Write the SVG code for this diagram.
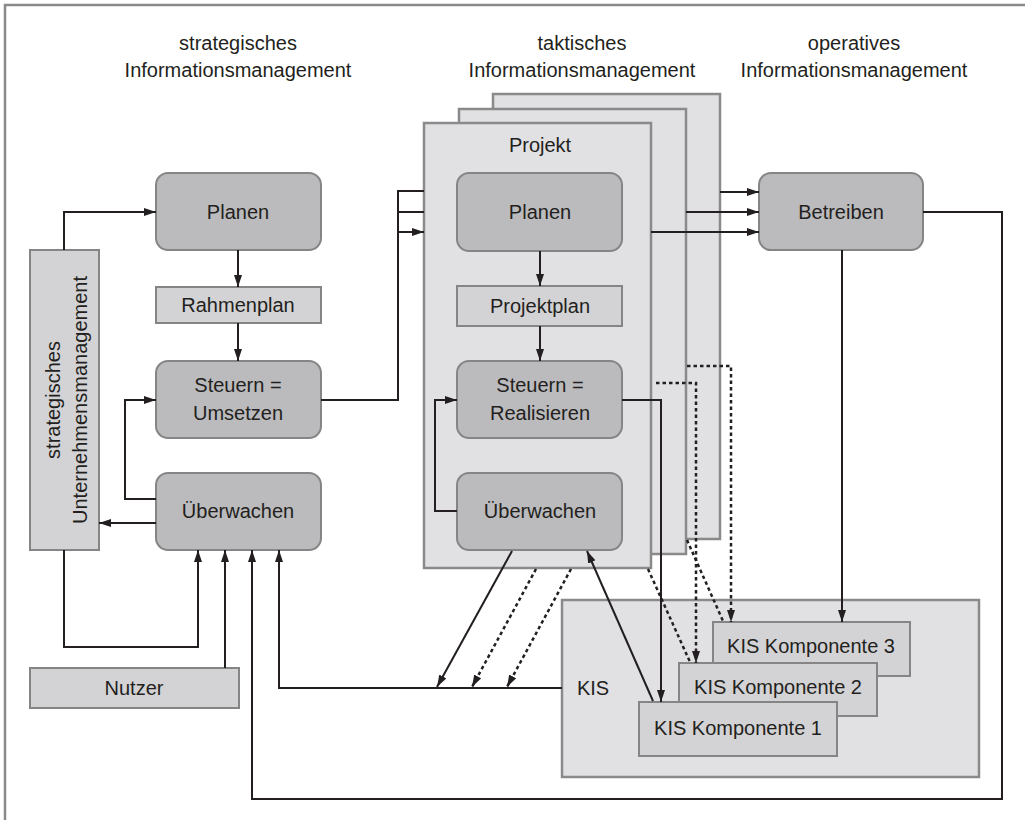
<svg xmlns="http://www.w3.org/2000/svg" width="1025" height="820" viewBox="0 0 1025 820">
<defs>
<style>
text{font-family:"Liberation Sans",Arial,sans-serif;font-size:20px;fill:#231f20;text-anchor:middle}
.dark{fill:#bbbbbd;stroke:#858585;stroke-width:2}
.light{fill:#d3d3d5;stroke:#858585;stroke-width:2}
.bg{fill:#e1e1e3;stroke:#8a8a8a;stroke-width:2.5}
.c{fill:none;stroke:#231f20;stroke-width:2}
.d{fill:none;stroke:#231f20;stroke-width:2.5;stroke-dasharray:3.5 3}
</style>
<marker id="ah" viewBox="0 0 12 8" refX="12" refY="4" markerWidth="12" markerHeight="8" markerUnits="userSpaceOnUse" orient="auto">
<path d="M0,0 L12,4 L0,8 z" fill="#231f20"/>
</marker>
</defs>
<rect x="5" y="5" width="1040" height="840" fill="#ffffff" stroke="#8a8a8a" stroke-width="2.5"/>

<g id="headers">
<text x="238" y="50">strategisches</text>
<text x="238" y="77">Informationsmanagement</text>
<text x="582" y="50">taktisches</text>
<text x="582" y="77">Informationsmanagement</text>
<text x="854" y="50">operatives</text>
<text x="854" y="77">Informationsmanagement</text>
</g>

<g id="kis">
<rect class="bg" x="562" y="600" width="417" height="177"/>
<text x="593" y="695">KIS</text>
</g>

<g id="projekt3"><rect class="bg" x="493" y="94" width="227" height="445"/></g>
<g id="projekt2"><rect class="bg" x="459" y="109" width="227" height="445"/></g>
<g id="projekt1">
<rect class="bg" x="424" y="123" width="227" height="445"/>
<text x="540" y="152">Projekt</text>
</g>

<g id="unternehmen">
<rect class="light" x="30" y="250" width="69" height="300"/>
<text transform="translate(60,400) rotate(-90)">strategisches</text>
<text transform="translate(87,400) rotate(-90)">Unternehmensmanagement</text>
</g>

<g id="s-planen"><rect class="dark" x="156" y="173" width="165" height="77" rx="12"/><text x="238" y="219">Planen</text></g>
<g id="rahmenplan"><rect class="light" x="156" y="287" width="165" height="36"/><text x="238" y="312">Rahmenplan</text></g>
<g id="s-steuern"><rect class="dark" x="156" y="361" width="165" height="77" rx="12"/><text x="238" y="392">Steuern =</text><text x="238" y="420">Umsetzen</text></g>
<g id="s-ueberwachen"><rect class="dark" x="156" y="473" width="165" height="77" rx="12"/><text x="238" y="518">Überwachen</text></g>
<g id="nutzer"><rect class="light" x="30" y="668" width="209" height="40"/><text x="134" y="695">Nutzer</text></g>

<g id="p-planen"><rect class="dark" x="457" y="173" width="165" height="78" rx="12"/><text x="540" y="219">Planen</text></g>
<g id="projektplan"><rect class="light" x="457" y="286" width="165" height="40"/><text x="540" y="313">Projektplan</text></g>
<g id="p-steuern"><rect class="dark" x="457" y="361" width="165" height="77" rx="12"/><text x="540" y="392">Steuern =</text><text x="540" y="420">Realisieren</text></g>
<g id="p-ueberwachen"><rect class="dark" x="457" y="473" width="165" height="77" rx="12"/><text x="540" y="518">Überwachen</text></g>

<g id="betreiben"><rect class="dark" x="759" y="173" width="164" height="77" rx="12"/><text x="841" y="219">Betreiben</text></g>

<g id="komp3"><rect class="light" x="713" y="622" width="197" height="54"/><text x="811" y="653">KIS Komponente 3</text></g>
<g id="komp2"><rect class="light" x="679" y="663" width="198" height="53"/><text x="778" y="694">KIS Komponente 2</text></g>
<g id="komp1"><rect class="light" x="639" y="702" width="198" height="54"/><text x="738" y="735">KIS Komponente 1</text></g>

<g id="connectors">
<path class="c" d="M64,250 V212 H156" marker-end="url(#ah)"/>
<path class="c" d="M238,250 V287" marker-end="url(#ah)"/>
<path class="c" d="M238,323 V361" marker-end="url(#ah)"/>
<path class="c" d="M156,499 H125 V400 H156" marker-end="url(#ah)"/>
<path class="c" d="M156,523 H99" marker-end="url(#ah)"/>
<path class="c" d="M64,550 V647 H198 V550" marker-end="url(#ah)"/>
<path class="c" d="M225,668 V550" marker-end="url(#ah)"/>
<path class="c" d="M923,212 H1002 V799 H252 V550" marker-end="url(#ah)"/>
<path class="c" d="M562,688 H279 V550" marker-end="url(#ah)"/>
<path class="c" d="M321,400 H398 V191 H424"/>
<path class="c" d="M398,212 H424"/>
<path class="c" d="M398,232 H424" marker-end="url(#ah)"/>
<path class="c" d="M540,251 V286" marker-end="url(#ah)"/>
<path class="c" d="M540,326 V361" marker-end="url(#ah)"/>
<path class="c" d="M457,511 H435 V400 H457" marker-end="url(#ah)"/>
<path class="c" d="M622,400 H661 V702" marker-end="url(#ah)"/>
<path class="c" d="M842,250 V622" marker-end="url(#ah)"/>
<path class="c" d="M720,192 H759" marker-end="url(#ah)"/>
<path class="c" d="M686,212 H759" marker-end="url(#ah)"/>
<path class="c" d="M651,232 H759" marker-end="url(#ah)"/>
<path class="c" d="M653,701 L587,551" marker-end="url(#ah)"/>
<path class="c" d="M512,551 L437,687" marker-end="url(#ah)"/>
<path class="d" d="M536,569 L472,687" marker-end="url(#ah)"/>
<path class="d" d="M571,569 L507,687" marker-end="url(#ah)"/>
<path class="d" d="M656,383 H696 V663" marker-end="url(#ah)"/>
<path class="d" d="M687,366 H731 V622" marker-end="url(#ah)"/>
<path class="d" d="M648,569 L690,662"/>
<path class="d" d="M687,540 L723,621"/>
</g>
</svg>
